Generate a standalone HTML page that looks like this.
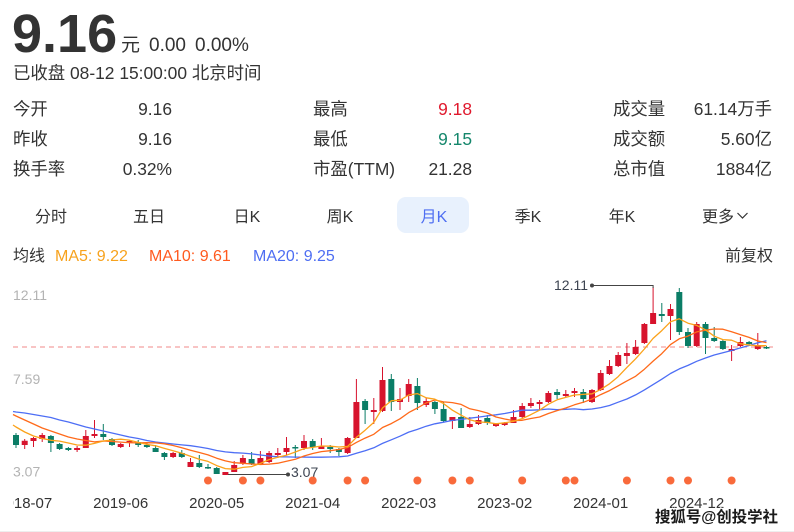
<!DOCTYPE html>
<html><head><meta charset="utf-8"><style>
html,body{margin:0;padding:0;background:#fff;}
svg{display:block;font-family:"Liberation Sans","Noto Sans CJK SC",sans-serif;}
</style></head><body>
<svg width="794" height="532" viewBox="0 0 794 532" xmlns="http://www.w3.org/2000/svg">
<rect width="794" height="532" fill="#fff"/>
<defs><clipPath id="cp"><rect x="13" y="480" width="781" height="40"/></clipPath></defs>
<!-- header -->
<text x="12" y="52" font-size="54" font-weight="bold" fill="#333">9.16</text>
<text x="121" y="51" font-size="19" fill="#333">元</text>
<text x="149" y="51" font-size="19" fill="#333">0.00</text>
<text x="195" y="51" font-size="19" fill="#333">0.00%</text>
<text x="13" y="79" font-size="17.4" fill="#333">已收盘 08-12 15:00:00 北京时间</text>
<g font-size="17.4" fill="#333">
<text x="13" y="115">今开</text><text x="172" y="115" text-anchor="end">9.16</text>
<text x="13" y="145">昨收</text><text x="172" y="145" text-anchor="end">9.16</text>
<text x="13" y="175">换手率</text><text x="172" y="175" text-anchor="end">0.32%</text>
<text x="313" y="115">最高</text><text x="472" y="115" text-anchor="end" fill="#e0192d">9.18</text>
<text x="313" y="145">最低</text><text x="472" y="145" text-anchor="end" fill="#15876c">9.15</text>
<text x="313" y="175">市盈(TTM)</text><text x="472" y="175" text-anchor="end">21.28</text>
<text x="613" y="115">成交量</text><text x="772" y="115" text-anchor="end">61.14万手</text>
<text x="613" y="145">成交额</text><text x="772" y="145" text-anchor="end">5.60亿</text>
<text x="613" y="175">总市值</text><text x="772" y="175" text-anchor="end">1884亿</text>
</g>
<!-- tabs -->
<rect x="397" y="197" width="72" height="36" rx="9" fill="#e8f1fd"/>
<g font-size="16" fill="#333" text-anchor="middle">
<text x="51" y="222">分时</text>
<text x="149" y="222">五日</text>
<text x="247" y="222">日K</text>
<text x="340" y="222">周K</text>
<text x="434" y="222" fill="#4e6ef2">月K</text>
<text x="528" y="222">季K</text>
<text x="622" y="222">年K</text>
</g>
<text x="702" y="222" font-size="16" fill="#333">更多</text>
<polyline points="737.5,213 742.5,218 747.5,213" fill="none" stroke="#333" stroke-width="1.2"/>
<!-- legend -->
<g font-size="16">
<text x="13" y="261" fill="#333">均线</text>
<text x="55" y="261" fill="#f7a21d">MA5: 9.22</text>
<text x="149" y="261" fill="#ff5a1f">MA10: 9.61</text>
<text x="253" y="261" fill="#4e6ef2">MA20: 9.25</text>
<text x="773" y="261" fill="#333" text-anchor="end">前复权</text>
</g>
<!-- y labels -->
<g font-size="14" fill="#b3b3b3">
<text x="13" y="300">12.11</text>
<text x="13" y="384">7.59</text>
<text x="13" y="476.5">3.07</text>
</g>
<line x1="13" y1="347" x2="773" y2="347" stroke="#f08a8a" stroke-width="1" stroke-dasharray="5,4"/>
<!-- candles -->
<g stroke="#d7132d" stroke-width="1" fill="none">
<path d="M24.7 439V449M33.5 437V447M42.2 433V442M77.1 446V452M85.8 430V448M94.5 420V438M120.7 443V448M129.5 440V447M173.1 452V458M190.5 458V467M225.4 472V475M234.2 461V472M242.9 455V465M260.4 451V464M269.1 451V463M277.8 448V458M286.5 437V455M304 435V450M321.4 438V449M347.6 437V454M356.4 379V438M373.8 398V424M382.5 367V412M400 388V410M408.7 379V402M426.2 398V407M452.4 417V429M469.8 417V428M478.5 415V425M496 423V427M504.7 422V426M513.5 410V423M522.2 403V418M530.9 398V408M539.6 400V410M548.4 391V403M565.8 390V397M574.5 388V397M592 389V403M600.7 370V391M609.5 360V375M618.2 352V367M626.9 343V364M635.6 340V355M644.4 323V344M653.1 287V324M670.5 304V340M696.7 322V347M731.6 345V361M740.4 337V347M757.8 333V350"/>
</g>
<path fill="#d7132d" d="M21.7 440.7h6V445h-6zM30.5 438h6V441h-6zM39.2 435h6V439h-6zM74.1 448h6V450h-6zM82.8 436h6V448h-6zM91.5 434h6V436h-6zM117.7 444h6V447h-6zM126.5 441h6V443h-6zM170.1 453h6V457h-6zM187.5 462h6V467h-6zM222.4 472h6V475h-6zM231.2 465h6V472h-6zM239.9 458h6V463h-6zM257.4 458h6V464h-6zM266.1 453h6V462h-6zM274.8 453h6V455h-6zM283.5 448h6V452h-6zM301 441h6V448h-6zM318.4 446h6V449h-6zM344.6 438h6V453h-6zM353.4 402h6V438h-6zM370.8 410h6V412h-6zM379.5 380h6V411h-6zM397 399h6V402h-6zM405.7 384h6V396h-6zM423.2 401h6V405h-6zM449.4 417h6V421h-6zM466.8 424h6V427h-6zM475.5 420h6V424h-6zM493 424h6V426h-6zM501.7 423h6V425h-6zM510.5 417h6V423h-6zM519.2 406h6V417h-6zM527.9 403h6V406h-6zM536.6 402h6V404h-6zM545.4 393h6V402h-6zM562.8 394h6V396h-6zM571.5 391h6V393h-6zM589 390h6V402h-6zM597.7 373h6V390h-6zM606.5 366h6V374h-6zM615.2 355h6V366h-6zM623.9 353h6V356h-6zM632.6 347h6V354h-6zM641.4 324h6V343h-6zM650.1 313h6V324h-6zM667.5 309h6V316h-6zM693.7 324h6V346h-6zM728.6 349h6V351h-6zM737.4 342h6V346h-6zM754.8 345h6V349h-6z"/>
<g stroke="#0b7d66" stroke-width="1" fill="none">
<path d="M16 433V448M50.9 435V452M59.6 443V450M68.4 447V451M103.3 424V440M112 438V446M138.2 440V447M146.9 443V448M155.6 445V452M164.4 452V460M181.8 450V458M199.3 455V468M208 464V469M216.7 467V474M251.6 452V465M295.3 445V458M312.7 439V450M330.2 445V453M338.9 448V456M365.1 399V424M391.3 374V411M417.4 378V410M434.9 401V414M443.6 402V422M461.1 408V428M487.3 415V425M557.1 389V399M583.3 389V403M661.8 303V322M679.3 288V335M688 328V348M705.5 322V354M714.2 327V342M722.9 340V350M749.1 341V345M766.5 346V349"/>
</g>
<path fill="#0b7d66" d="M13 435h6V445h-6zM47.9 436h6V443h-6zM56.6 444h6V449h-6zM65.4 448h6V450h-6zM100.3 434h6V437h-6zM109 439h6V445h-6zM135.2 442h6V445h-6zM143.9 445h6V447h-6zM152.6 448h6V452h-6zM161.4 453h6V457h-6zM178.8 453h6V457h-6zM196.3 463h6V467h-6zM205 467h6V468.5h-6zM213.7 468h6V474h-6zM248.6 459h6V464h-6zM292.3 447h6V448.5h-6zM309.7 441h6V447h-6zM327.2 447h6V449h-6zM335.9 449h6V452h-6zM362.1 401h6V410h-6zM388.3 379h6V402h-6zM414.4 386h6V403h-6zM431.9 402h6V409h-6zM440.6 409h6V421h-6zM458.1 417h6V428h-6zM484.3 418h6V423h-6zM554.1 392h6V395h-6zM580.3 392h6V399h-6zM658.8 314h6V316h-6zM676.3 292h6V332h-6zM685 332h6V346h-6zM702.5 324h6V338h-6zM711.2 338h6V341h-6zM719.9 341h6V349h-6zM746.1 342h6V344h-6zM763.5 347h6V348.5h-6z"/>
<!-- MA lines -->
<polyline fill="none" stroke="#4d6ef5" stroke-width="1.3" stroke-linejoin="round" points="13,411.5 16,412 24.7,413 33.5,414.5 42.2,416 50.9,417.5 59.6,420 68.4,422 77.1,424.5 85.8,427 94.5,429 103.3,431 112,433 120.7,435 129.5,437 138.2,438.5 146.9,440.5 155.6,442 164.4,443 173.1,444 181.8,444.9 190.5,445.7 199.3,447 208,448.5 216.7,450.5 225.4,451.9 234.2,452.7 242.9,453.1 251.6,453.9 260.4,455 269.1,456 277.8,456.8 286.5,456.9 295.3,457.1 304,457.1 312.7,457.2 321.4,457.2 330.2,457 338.9,456.8 347.6,456 356.4,453.3 365.1,450.7 373.8,447.8 382.5,443.4 391.3,439.8 400,436.2 408.7,432.1 417.4,429.4 426.2,426.2 434.9,423.8 443.6,422.2 452.4,420.4 461.1,419.4 469.8,418.2 478.5,417.1 487.3,415.9 496,414.8 504.7,413.5 513.5,411.8 522.2,410.2 530.9,410.2 539.6,409.8 548.4,409 557.1,409.7 565.8,409.3 574.5,408.9 583.3,409.7 592,409 600.7,407.6 609.5,405.5 618.2,402.2 626.9,399 635.6,394.9 644.4,389.9 653.1,384.6 661.8,379.2 670.5,373.5 679.3,368.9 688,365.4 696.7,361.3 705.5,358 714.2,355 722.9,352.8 731.6,350.5 740.4,347.9 749.1,345.5 757.8,342.8 766.5,340.7"/>
<polyline fill="none" stroke="#ff6a1a" stroke-width="1.3" stroke-linejoin="round" points="13,414.5 16,416 24.7,420 33.5,424 42.2,428 50.9,431 59.6,434 68.4,437 77.1,439 85.8,440.5 94.5,441.9 103.3,441 112,441.5 120.7,442.1 129.5,442.7 138.2,442.9 146.9,442.7 155.6,442.9 164.4,443.8 173.1,445.5 181.8,447.8 190.5,450.3 199.3,452.5 208,454.9 216.7,458.2 225.4,460.9 234.2,462.7 242.9,463.3 251.6,464 260.4,464.5 269.1,464.1 277.8,463.2 286.5,461.3 295.3,459.3 304,456 312.7,453.5 321.4,451.6 330.2,450.7 338.9,449.5 347.6,447.5 356.4,442.4 365.1,438.1 373.8,434.3 382.5,427.5 391.3,423.6 400,418.8 408.7,412.6 417.4,408 426.2,402.9 434.9,400 443.6,401.9 452.4,402.6 461.1,404.4 469.8,408.8 478.5,410.6 487.3,413 496,417 504.7,419 513.5,420.6 522.2,420.3 530.9,418.5 539.6,417 548.4,413.5 557.1,410.6 565.8,408 574.5,404.8 583.3,402.3 592,399 600.7,394.6 609.5,390.6 618.2,385.8 626.9,380.9 635.6,376.3 644.4,369.2 653.1,361.1 661.8,353.6 670.5,344.6 679.3,338.8 688,336.1 696.7,331.9 705.5,330.2 714.2,329 722.9,329.2 731.6,331.7 740.4,334.6 749.1,337.4 757.8,341 766.5,342.6"/>
<polyline fill="none" stroke="#fba21a" stroke-width="1.3" stroke-linejoin="round" points="13,425 16,427 24.7,432 33.5,436 42.2,438.5 50.9,440.3 59.6,441.1 68.4,443 77.1,445 85.8,445.2 94.5,443.4 103.3,441 112,440 120.7,439.2 129.5,440.2 138.2,442.4 146.9,444.4 155.6,445.8 164.4,448.4 173.1,450.8 181.8,453.2 190.5,456.2 199.3,459.2 208,461.4 216.7,465.6 225.4,468.6 234.2,469.2 242.9,467.4 251.6,466.6 260.4,463.4 269.1,459.6 277.8,457.2 286.5,455.2 295.3,452 304,448.6 312.7,447.4 321.4,446 330.2,446.2 338.9,447 347.6,446.4 356.4,437.4 365.1,430.2 373.8,422.4 382.5,408 391.3,400.8 400,400.2 408.7,395 417.4,393.6 426.2,397.8 434.9,399.2 443.6,403.6 452.4,410.2 461.1,415.2 469.8,419.8 478.5,422 487.3,422.4 496,423.8 504.7,422.8 513.5,421.4 522.2,418.6 530.9,414.6 539.6,410.2 548.4,404.2 557.1,399.8 565.8,397.4 574.5,395 583.3,394.4 592,393.8 600.7,389.4 609.5,383.8 618.2,376.6 626.9,367.4 635.6,358.8 644.4,349 653.1,338.4 661.8,330.6 670.5,321.8 679.3,318.8 688,323.2 696.7,325.4 705.5,329.8 714.2,336.2 722.9,339.6 731.6,340.2 740.4,343.8 749.1,345 757.8,345.8 766.5,345.6"/>
<!-- annotations -->
<polyline points="592,285.5 653.1,285.5 653.1,288" fill="none" stroke="#444" stroke-width="1"/>
<circle cx="592" cy="285.5" r="2" fill="#444"/>
<text x="554" y="290" font-size="14" fill="#3d4451">12.11</text>
<line x1="228" y1="474.5" x2="288" y2="474.5" stroke="#444" stroke-width="1"/>
<circle cx="288" cy="474.5" r="2" fill="#444"/>
<text x="291" y="477" font-size="14" fill="#3d4451">3.07</text>
<!-- dots -->
<g fill="#f96a3b">
<circle cx="208" cy="480.5" r="4"/><circle cx="242.9" cy="480.5" r="4"/><circle cx="260.4" cy="480.5" r="4"/><circle cx="312.7" cy="480.5" r="4"/><circle cx="347.6" cy="480.5" r="4"/><circle cx="365.1" cy="480.5" r="4"/><circle cx="417.4" cy="480.5" r="4"/><circle cx="452.4" cy="480.5" r="4"/><circle cx="469.8" cy="480.5" r="4"/><circle cx="522.2" cy="480.5" r="4"/><circle cx="565.8" cy="480.5" r="4"/><circle cx="574.5" cy="480.5" r="4"/><circle cx="626.9" cy="480.5" r="4"/><circle cx="670.5" cy="480.5" r="4"/><circle cx="688" cy="480.5" r="4"/><circle cx="731.6" cy="480.5" r="4"/>
</g>
<!-- x labels -->
<g font-size="15" fill="#333" text-anchor="middle">
<text x="24.7" y="508" clip-path="url(#cp)">2018-07</text>
<text x="120.7" y="508">2019-06</text>
<text x="216.7" y="508">2020-05</text>
<text x="312.7" y="508">2021-04</text>
<text x="408.7" y="508">2022-03</text>
<text x="504.7" y="508">2023-02</text>
<text x="600.7" y="508">2024-01</text>
<text x="696.7" y="508">2024-12</text>
</g>
<line x1="0" y1="531.5" x2="794" y2="531.5" stroke="#eeeeee" stroke-width="1"/>
<text x="655" y="522" font-size="15.5" font-weight="bold" fill="#1a1a1a" stroke="#fff" stroke-width="2.5" paint-order="stroke" textLength="123" lengthAdjust="spacingAndGlyphs">搜狐号@创投学社</text>
</svg>
</body></html>
